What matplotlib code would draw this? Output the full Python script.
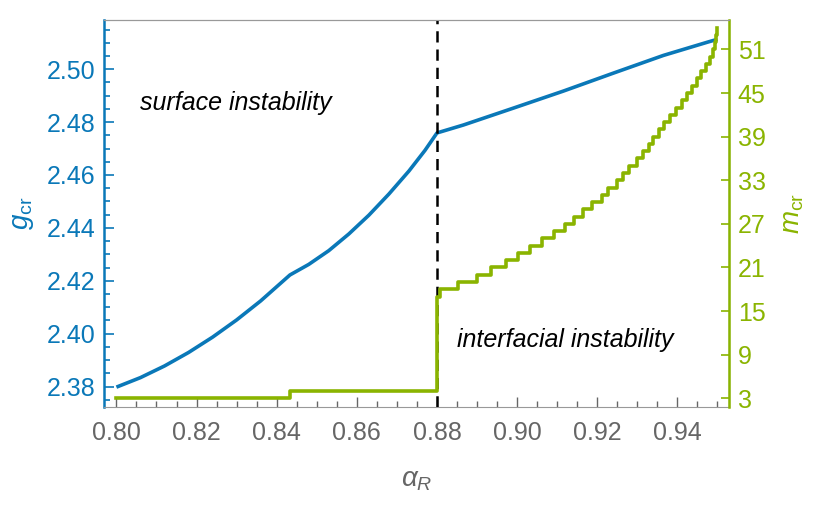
import numpy as np
import matplotlib.pyplot as plt
from matplotlib.ticker import MultipleLocator

plt.rcParams['font.family'] = ['Liberation Sans', 'DejaVu Sans']
plt.rcParams['mathtext.fontset'] = 'custom'
plt.rcParams['mathtext.rm'] = 'Liberation Sans'
plt.rcParams['mathtext.it'] = 'Liberation Sans:italic'

# g_cr (left axis)
alpha_g = [0.8000, 0.8060, 0.8120, 0.8180, 0.8240, 0.8300, 0.8360, 0.8433,
           0.8480, 0.8530, 0.8580, 0.8630, 0.8680, 0.8730, 0.8770, 0.8800,
           0.8866, 0.8991, 0.9115, 0.9240, 0.9365, 0.9477, 0.9500]
g_cr = [2.3798, 2.3834, 2.3878, 2.3929, 2.3987, 2.4052, 2.4124, 2.4222,
        2.4262, 2.4314, 2.4377, 2.4448, 2.4528, 2.4615, 2.4693, 2.4759,
        2.4789, 2.4853, 2.4917, 2.4985, 2.5052, 2.5103, 2.5113]

# m_cr (right axis): value starts at alpha_m[i]
alpha_m = [0.8000, 0.8433, 0.8800, 0.8808, 0.8852, 0.8900, 0.8935, 0.8972,
           0.9002, 0.9032, 0.9062, 0.9092, 0.9120, 0.9142, 0.9165, 0.9188,
           0.9211, 0.9226, 0.9249, 0.9263, 0.9278, 0.9300, 0.9314, 0.9328,
           0.9340, 0.9353, 0.9367, 0.9382, 0.9396, 0.9411, 0.9423, 0.9436,
           0.9448, 0.9459, 0.9471, 0.9482, 0.9488, 0.9493, 0.9497, 0.9499,
           0.9500]
m_cr = [3, 4, 17, 18, 19, 20, 21, 22, 23, 24, 25, 26, 27, 28, 29, 30,
        31, 32, 33, 34, 35, 36, 37, 38, 39, 40, 41, 42, 43, 44, 45, 46,
        47, 48, 49, 50, 51, 52, 53, 54, 54]

alpha_crit = 0.88

blue = '#0a78b8'
green = '#8ab400'
gray = '#666666'

fig = plt.figure(figsize=(8.34, 5.11), dpi=100)
ax1 = fig.add_axes([0.1247, 0.2041, 0.75, 0.7568])
ax2 = ax1.twinx()

ax1.plot(alpha_g, g_cr, color=blue, lw=2.6, solid_joinstyle='round',
         solid_capstyle='butt', zorder=3)
ax2.step(alpha_m, m_cr, where='post', color=green, lw=2.6, zorder=2)
ax1.axvline(alpha_crit, color='black', lw=1.8, ls=(0, (4.5, 2.8)), zorder=4)

ax1.set_xlim(0.7969, 0.953)
ax1.set_ylim(2.3724, 2.5186)
ax2.set_ylim(1.85, 55.05)

ax1.xaxis.set_major_locator(MultipleLocator(0.02))
ax1.xaxis.set_minor_locator(MultipleLocator(0.005))
ax1.yaxis.set_major_locator(MultipleLocator(0.02))
ax1.yaxis.set_minor_locator(MultipleLocator(0.005))
ax1.xaxis.set_major_formatter(plt.FormatStrFormatter('%.2f'))
ax1.yaxis.set_major_formatter(plt.FormatStrFormatter('%.2f'))
ax2.set_yticks(np.arange(3, 52, 6))

ax1.tick_params(axis='x', which='both', direction='in', colors=gray,
                labelsize=18, pad=10, top=False)
ax1.tick_params(axis='x', which='major', length=7, width=1)
ax1.tick_params(axis='x', which='minor', length=4, width=1)
ax1.tick_params(axis='y', which='both', direction='in', colors=blue,
                labelsize=18, pad=6)
ax1.tick_params(axis='y', which='major', length=7, width=1.2)
ax1.tick_params(axis='y', which='minor', length=4, width=1.2)
ax2.tick_params(axis='y', direction='in', colors=green, labelsize=18,
                length=6, width=1.2, pad=6)

ax1.spines['left'].set_color(blue)
ax1.spines['left'].set_linewidth(1.8)
ax1.spines['bottom'].set_color('#999999')
ax1.spines['top'].set_color('#999999')
ax2.spines['right'].set_color(green)
ax2.spines['right'].set_linewidth(1.8)
ax2.spines['left'].set_visible(False)
ax2.spines['top'].set_color('#999999')
ax2.spines['bottom'].set_visible(False)

ax1.set_xlabel(r'$\alpha_R$', fontsize=20, color=gray, labelpad=16)
ax1.set_ylabel(r'$g_{\mathrm{cr}}$', fontsize=20, color=blue, labelpad=8)
ax2.set_ylabel(r'$m_{\mathrm{cr}}$', fontsize=20, color=green, labelpad=10)

ax1.text(0.8059, 2.4873, 'surface instability', fontsize=18, style='italic',
         va='center', ha='left')
ax1.text(0.8850, 2.3977, 'interfacial instability', fontsize=18, style='italic',
         va='center', ha='left')

fig.savefig('out.png', dpi=100)
